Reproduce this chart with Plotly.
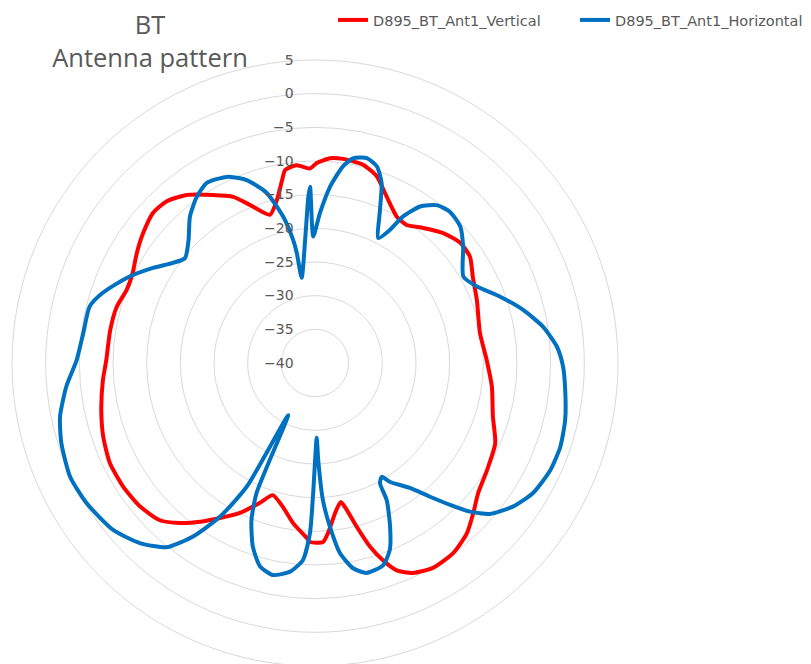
import plotly.graph_objects as go

# Angles in degrees (clockwise from top), values in dB
vert_theta = [0.5, 4.2, 7.8, 13.6, 18.3, 23.3, 29.2, 33.6, 38.7, 44.6, 50.4, 55.6, 61.4, 68.7,
              79.7, 89.0, 97.6, 106.8, 114.0, 121.9, 128.6, 133.5, 138.3, 144.0, 150.1, 155.0,
              158.5, 161.0, 163.3, 165.7, 167.8, 169.5, 172.4, 175.6, 177.4, 181.6, 182.7, 187.8,
              192.6, 197.7, 201.5, 206.6, 211.5, 215.9, 220.2, 224.6, 230.6, 237.2, 244.0, 250.8,
              257.6, 265.4, 270.8, 279.1, 285.9, 291.2, 296.3, 301.7, 307.1, 312.8, 317.4, 322.6,
              328.7, 333.8, 337.6, 343.1, 346.9, 349.8, 351.2, 354.7, 358.5, 360.5]
vert_db = [-10.3, -9.5, -9.4, -9.7, -10.8, -13.1, -15.1, -15.4, -14.3, -12.9, -12.0, -12.1, -13.3, -14.2,
           -15.1, -14.5, -13.5, -12.4, -10.7, -9.9, -9.0, -7.6, -6.1, -5.1, -4.9, -5.6,
           -6.9, -9.0, -11.5, -14.9, -17.7, -19.0, -17.5, -14.7, -13.4, -13.4, -14.0, -16.0,
           -18.1, -19.4, -17.7, -15.1, -13.0, -10.9, -8.9, -7.2, -6.4, -6.1, -6.1, -6.7,
           -7.5, -8.4, -9.0, -9.2, -9.4, -10.0, -9.8, -8.9, -8.0, -7.2, -7.4, -8.6,
           -10.8, -12.5, -14.6, -17.0, -15.1, -12.4, -11.0, -10.5, -11.1, -10.3]

horiz_theta = [1.9, 4.9, 8.1, 10.5, 14.2, 17.5, 20.3, 23.0, 26.9, 29.4, 31.0, 33.9, 37.6, 41.7,
               46.8, 51.8, 59.8, 64.7, 70.3, 75.7, 81.0, 86.1, 90.5, 95.4, 102.8, 108.9, 114.5,
               120.8, 126.0, 130.8, 133.8, 136.4, 139.3, 142.8, 147.7, 149.6, 151.6, 152.4, 155.4,
               158.2, 161.4, 166.2, 169.5, 172.5, 174.8, 176.7, 178.1, 178.7, 180.8, 181.7, 183.5,
               186.8, 191.2, 195.1, 198.7, 202.0, 204.2, 207.2, 208.9, 211.7, 215.1, 218.8, 224.2,
               230.4, 238.5, 245.1, 252.5, 258.1, 264.6, 270.7, 277.4, 284.1, 288.3, 294.3, 300.4,
               305.2, 308.9, 314.2, 319.5, 324.6, 329.0, 334.6, 339.5, 344.1, 347.7, 349.9, 350.6,
               351.1, 355.4, 357.7, 358.4, 359.2, 361.9]
horiz_db = [-17.7, -13.7, -10.5, -9.1, -8.6, -9.4, -11.5, -15.3, -19.2, -17.3, -14.6, -12.0, -10.4, -9.9,
            -10.4, -12.0, -14.5, -13.4, -10.8, -8.1, -5.7, -4.0, -3.2, -2.7, -1.9, -1.5, -1.6,
            -2.3, -3.7, -5.7, -8.1, -10.9, -13.8, -16.7, -19.1, -20.4, -19.7, -17.0, -13.2,
            -10.1, -8.3, -7.9, -9.0, -11.5, -15.6, -19.6, -25.6, -28.9, -20.7, -14.7, -10.7,
            -8.8, -7.9, -8.7, -11.2, -14.8, -18.8, -31.3, -19.0, -13.2, -8.5, -4.9, -2.7,
            -1.1, -0.2, 0.1, -0.5, -1.3, -2.9, -4.6, -5.3, -5.5, -6.8, -9.3, -12.1,
            -14.2, -15.2, -13.8, -11.4, -9.7, -8.8, -9.4, -11.0, -13.7, -17.7, -21.4, -23.4,
            -27.2, -21.7, -15.3, -13.8, -21.2, -17.7]

radial_ticks = [-40, -35, -30, -25, -20, -15, -10, -5, 0, 5]

FONT = "Open Sans"
SMALL_FONT = "DejaVu Sans"
GREY = "#595959"

fig = go.Figure()
fig.add_trace(go.Scatterpolar(theta=vert_theta, r=vert_db, mode="lines",
                              name="D895_BT_Ant1_Vertical",
                              line=dict(color="#ff0000", width=4, shape="spline", smoothing=0.6)))
fig.add_trace(go.Scatterpolar(theta=horiz_theta, r=horiz_db, mode="lines",
                              name="D895_BT_Ant1_Horizontal",
                              line=dict(color="#0070c0", width=4, shape="spline", smoothing=0.6)))

W, H = 811, 664
OFF = 8  # page body margin
cx, cy, R = 315 - OFF, 363 - OFF, 303
T = cy - R
B = H - (cy + R)
fig.update_layout(
    width=W, height=H,
    margin=dict(l=0, r=0, t=T, b=B, autoexpand=False),
    paper_bgcolor="white", plot_bgcolor="white",
    font=dict(family=FONT, color=GREY),
    title=dict(text="BT<br>Antenna pattern", x=(150 - OFF) / W, xanchor="center", xref="container",
               y=1 - (34 - OFF) / H, yanchor="middle", yref="container",
               font=dict(family=FONT, size=25.5, color=GREY)),
    legend=dict(orientation="h", xref="container", yref="container",
                x=(333 - OFF) / W, y=1 - (20 - OFF) / H, xanchor="left", yanchor="middle",
                font=dict(family=SMALL_FONT, size=14.5, color=GREY),
                entrywidth=197, entrywidthmode="pixels",
                bgcolor="rgba(0,0,0,0)"),
    polar=dict(
        domain=dict(x=[(cx - R) / W, (cx + R) / W], y=[0, 1]),
        bgcolor="white",
        radialaxis=dict(range=[-40, 5], tickvals=radial_ticks, angle=90,
                        side="counterclockwise", tickangle=90,
                        showline=False, ticks="outside", ticklen=16,
                        tickcolor="rgba(0,0,0,0)",
                        gridcolor="#d9d9d9", gridwidth=1,
                        tickfont=dict(family=SMALL_FONT, size=14, color=GREY)),
        angularaxis=dict(rotation=90, direction="clockwise", showgrid=False,
                         showticklabels=False, ticks="", showline=True,
                         linecolor="#d9d9d9", linewidth=1),
    ),
)

fig.write_html("out.html")
